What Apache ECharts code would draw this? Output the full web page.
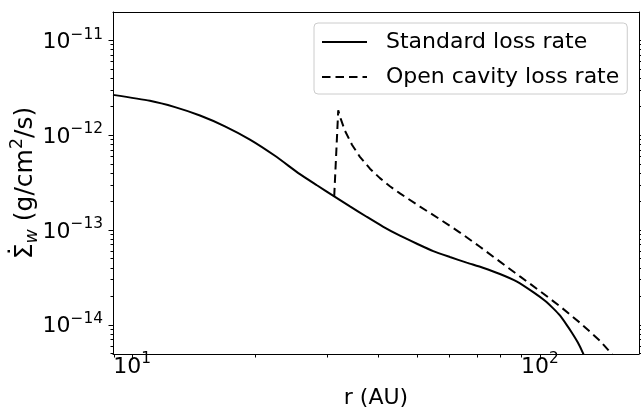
<!DOCTYPE html>
<html>
<head>
<meta charset="utf-8">
<script src="https://cdn.jsdelivr.net/npm/echarts@6/dist/echarts.min.js"></script>
<style>
html,body{margin:0;padding:0;background:#fff;}
#chart{width:641px;height:414px;}
</style>
</head>
<body>
<div id="chart"></div>
<script>
// ---- data ----
const seriesNames = ['Standard loss rate', 'Open cavity loss rate'];

// Standard loss rate: radius (AU) and rate (g/cm^2/s)
const standardR = [8.97, 11.05, 12.73, 14.66, 16.88, 19.44, 22.39, 25.78, 28.38, 31.29,
  34.20, 37.58, 41.20, 45.36, 49.93, 54.73, 60.15, 66.11, 72.47, 79.78,
  87.84, 96.29, 102.9, 107.8, 111.96, 116.3, 119.8, 123.9, 127.7, 129.7];
const standardRate = [2.647e-12, 2.294e-12, 1.965e-12, 1.604e-12, 1.234e-12, 8.94e-13, 6.03e-13, 3.860e-13, 2.947e-13, 2.250e-13,
  1.764e-13, 1.373e-13, 1.082e-13, 8.665e-14, 7.126e-14, 5.960e-14, 5.163e-14, 4.507e-14, 3.973e-14, 3.417e-14,
  2.843e-14, 2.202e-14, 1.785e-14, 1.483e-14, 1.249e-14, 9.952e-15, 8.223e-15, 6.477e-15, 4.944e-15, 4.116e-15];

// Open cavity loss rate
const cavityR = [31.29, 32.01, 32.50, 33.25, 34.59, 36.18, 38.29, 40.51, 42.86, 45.36,
  50.79, 56.85, 63.66, 71.26, 79.78, 89.32, 100.0, 111.96, 125.3, 140.3, 151.9];
const cavityRate = [2.250e-13, 1.820e-12, 1.458e-12, 1.108e-12, 7.897e-13, 5.875e-13, 4.411e-13, 3.508e-13, 2.877e-13, 2.418e-13,
  1.756e-13, 1.291e-13, 9.354e-14, 6.619e-14, 4.616e-14, 3.227e-14, 2.261e-14, 1.562e-14, 1.049e-14, 6.778e-15, 4.616e-15];

// axes
const xRange = [8.97, 175];
const yRange = [4.9e-15, 1.98e-11];
const xMajorTicks = [10, 100];
const xMinorTicks = [9, 20, 30, 40, 50, 60, 70, 80, 90];
const yMajorTicks = [1e-14, 1e-13, 1e-12, 1e-11];
const yMinorTicks = [5e-15, 6e-15, 7e-15, 8e-15, 9e-15,
                     2e-14, 3e-14, 4e-14, 5e-14, 6e-14, 7e-14, 8e-14, 9e-14,
                     2e-13, 3e-13, 4e-13, 5e-13, 6e-13, 7e-13, 8e-13, 9e-13,
                     2e-12, 3e-12, 4e-12, 5e-12, 6e-12, 7e-12, 8e-12, 9e-12];
const xName = 'r (AU)';
const yNameParts = ['\u03A3', 'w', ' (g/cm', '2', '/s)'];
const yNameAccent = '\u02D9';

// ---- chart ----
const FONT = 'DejaVu Sans';
const pairs = (xs, ys) => xs.map((x, i) => [x, ys[i]]);

function powLabel(v) {
  const e = Math.round(Math.log10(v));
  const s = e < 0 ? '\u2212' + (-e) : String(e);
  return '{b|10}{s|' + s + '}';
}
const powRich = {
  b: {fontSize: 22, lineHeight: 22, fontFamily: FONT, color: '#000', verticalAlign: 'middle'},
  s: {fontSize: 15.4, lineHeight: 15, fontFamily: FONT, color: '#000', padding: [0, 0, 15.2, 0], verticalAlign: 'middle'}
};
const black = {color: '#000', width: 1};
const GRID = {left: 113, top: 12, width: 526, height: 348};

const chart = echarts.init(document.getElementById('chart'), null, {renderer: 'canvas'});
chart.setOption({
  animation: false,
  backgroundColor: '#fff',
  textStyle: {fontFamily: FONT},
  grid: Object.assign({containLabel: false}, GRID),
  legend: {
    orient: 'vertical',
    left: 314, top: 23,
    padding: [8, 8, 6, 7],
    itemGap: 13,
    itemWidth: 45, itemHeight: 14,
    backgroundColor: 'rgba(255,255,255,0.8)',
    borderColor: '#cccccc', borderWidth: 1, borderRadius: 4,
    itemStyle: {opacity: 0},
    textStyle: {fontSize: 22, lineHeight: 22, fontFamily: FONT, color: '#000', padding: [0, 0, 0, 14]},
    data: seriesNames
  },
  xAxis: [
    {
      type: 'log', logBase: 10, min: xRange[0], max: xRange[1], position: 'bottom',
      axisLine: {show: true, onZero: false, lineStyle: black},
      axisTick: {show: false},
      axisLabel: {show: true, customValues: xMajorTicks, formatter: powLabel, rich: powRich, margin: 2, color: '#000'},
      splitLine: {show: false}, minorTick: {show: false}, minorSplitLine: {show: false},
      name: xName, nameLocation: 'middle', nameGap: 33,
      nameTextStyle: {fontSize: 22, lineHeight: 22, fontFamily: FONT, color: '#000'}
    },
    {
      type: 'log', logBase: 10, min: xRange[0], max: xRange[1], position: 'top',
      axisLine: {show: true, onZero: false, lineStyle: black},
      axisTick: {show: false}, axisLabel: {show: false}, splitLine: {show: false}
    }
  ],
  yAxis: [
    {
      type: 'log', logBase: 10, min: yRange[0], max: yRange[1], position: 'left',
      axisLine: {show: true, onZero: false, lineStyle: black},
      axisTick: {show: false},
      axisLabel: {show: true, customValues: yMajorTicks, formatter: powLabel, rich: powRich, margin: 10, color: '#000', padding: [4.2, 0, 0, 0]},
      splitLine: {show: false}
    },
    {
      type: 'log', logBase: 10, min: yRange[0], max: yRange[1], position: 'right',
      axisLine: {show: true, onZero: false, lineStyle: black},
      axisTick: {show: false}, axisLabel: {show: false}, splitLine: {show: false}
    }
  ],
  series: [
    {
      name: seriesNames[0], type: 'line', xAxisIndex: 0, yAxisIndex: 0,
      data: pairs(standardR, standardRate),
      symbol: 'none', smooth: 0.2, clip: true,
      lineStyle: {color: '#000', width: 2, type: 'solid'},
      itemStyle: {color: '#000'}
    },
    {
      name: seriesNames[1], type: 'line', xAxisIndex: 0, yAxisIndex: 0,
      data: pairs(cavityR, cavityRate),
      symbol: 'none', smooth: false, clip: true,
      lineStyle: {color: '#000', width: 2, type: [8.5, 5], cap: 'butt'},
      itemStyle: {color: '#000'}
    }
  ]
});

// ---- tick marks positioned through the axes' own scales ----
const gx = v => chart.convertToPixel({xAxisIndex: 0}, v);
const gy = v => chart.convertToPixel({yAxisIndex: 0}, v);
const crisp = p => Math.round(p) + 0.5;
const xl = crisp(gx(xRange[0])) , xr = crisp(gx(xRange[1]));
const yb = crisp(gy(yRange[0])), yt = crisp(gy(yRange[1]));
const tickEls = [];
function tick(x1, y1, x2, y2) {
  tickEls.push({type: 'line', silent: true, shape: {x1, y1, x2, y2}, style: {stroke: '#000', lineWidth: 1}});
}
xMajorTicks.forEach(v => { const x = crisp(gx(v)); tick(x, yb, x, yb + 5); });
xMinorTicks.forEach(v => { const x = crisp(gx(v)); tick(x, yb, x, yb + 3); });
yMajorTicks.forEach(v => { const y = crisp(gy(v)); tick(xl - 5, y, xl, y); tick(xr, y, xr + 5, y); });
yMinorTicks.forEach(v => { const y = crisp(gy(v)); tick(xl - 3, y, xl, y); tick(xr, y, xr + 3, y); });

// ---- y axis title (rotated, with dot accent, subscript and superscript) ----
const ctx = document.createElement('canvas').getContext('2d');
const YF = 25;
const partStyle = [
  {size: YF, italic: false, shift: 0},
  {size: YF * 0.7, italic: true, shift: YF * 0.18},
  {size: YF, italic: false, shift: 0},
  {size: YF * 0.7, italic: false, shift: -YF * 0.41},
  {size: YF, italic: false, shift: 0}
];
const MID = 0.346; // canvas 'middle' baseline offset for DejaVu Sans
let cx = 0; const nameEls = []; let sigW = 0;
yNameParts.forEach((t, i) => {
  const st = partStyle[i];
  ctx.font = (st.italic ? 'italic ' : '') + st.size + 'px "DejaVu Sans"';
  const w = ctx.measureText(t).width;
  if (i === 0) sigW = w;
  nameEls.push({type: 'text', silent: true, x: cx, y: st.shift - MID * st.size,
    style: {text: t, fontSize: st.size, fontFamily: FONT, fontStyle: st.italic ? 'italic' : 'normal', fill: '#000', align: 'left', verticalAlign: 'middle'}});
  cx += w;
});
nameEls.push({type: 'text', silent: true, x: sigW / 2, y: -YF * 0.23 - MID * YF,
  style: {text: yNameAccent, fontSize: YF, fontFamily: FONT, fill: '#000', align: 'center', verticalAlign: 'middle'}});
const midY = (gy(yRange[0]) + gy(yRange[1])) / 2;

chart.setOption({
  graphic: [
    {type: 'group', silent: true, children: tickEls},
    {type: 'group', silent: true, x: 34, y: midY + cx / 2, rotation: Math.PI / 2, children: nameEls}
  ]
});
</script>
</body>
</html>
